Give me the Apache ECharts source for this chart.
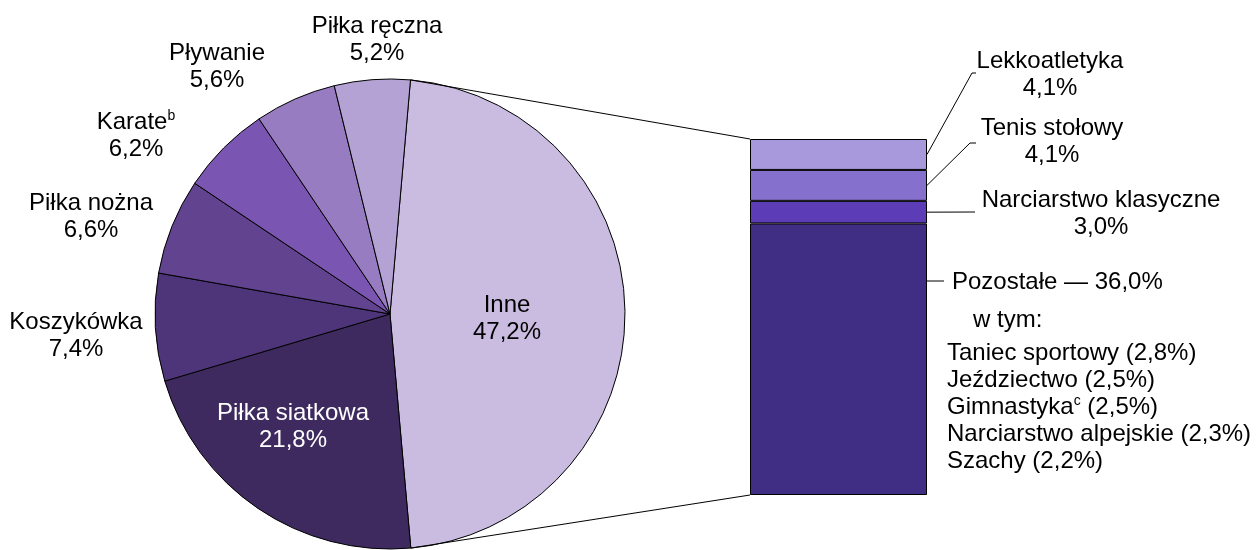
<!DOCTYPE html>
<html>
<head>
<meta charset="utf-8">
<title>Dyscypliny sportu</title>
<script src="https://cdn.jsdelivr.net/npm/echarts@6/dist/echarts.min.js"></script>
<style>
html,body{margin:0;padding:0;background:#fff;}
#chart{width:1257px;height:550px;}
</style>
</head>
<body>
<div id="chart"></div>
<script>
// udział dyscyplin (koło), kolejność zgodnie z ruchem wskazówek zegara
var pieNames = ['Inne', 'Piłka siatkowa', 'Koszykówka', 'Piłka nożna', 'Karate', 'Pływanie', 'Piłka ręczna'];
var pieValues = [47.2, 21.8, 7.4, 6.6, 6.2, 5.6, 5.2];
var pieNotes = ['', '', '', '', 'b', '', ''];

// rozbicie "Inne" - słupek, od dołu
var barNames = ['Pozostałe', 'Narciarstwo klasyczne', 'Tenis stołowy', 'Lekkoatletyka'];
var barValues = [36.0, 3.0, 4.1, 4.1];

// "w tym:"
var subNames = ['Taniec sportowy', 'Jeździectwo', 'Gimnastyka', 'Narciarstwo alpejskie', 'Szachy'];
var subValues = [2.8, 2.5, 2.5, 2.3, 2.2];
var subNotes = ['', '', 'c', '', ''];

// wygląd
var pieColors = ['#C9BCE0', '#3E2A5E', '#4E3478', '#62438F', '#7A55B1', '#977CC2', '#B4A2D5'];
var pieLabelColors = ['#000', '#fff', '#000', '#000', '#000', '#000', '#000'];
var barColors = ['#402D84', '#5C3DB7', '#8670CD', '#A898DC'];
var font = 'Liberation Sans, Arial, sans-serif';
var fs = 24;
var cx = 390, cy = 314, r = 235, startAngle = 85;
var gridLeft = 750, gridTop = 139, gridW = 177, gridH = 356;

// położenie etykiet koła (środek bloku, względem środka koła)
var pieLabelPos = [[117, 5], [-97, 113], [-314, 22], [-299, -97], [-254, -178], [-173, -247], [-13, -274]];
// etykiety słupka (Pozostałe - lewy górny róg, reszta - środek)
var barLabelPos = [[947, 264], [1101, 214], [1052, 142], [1050, 75]];
// linie odniesienia od prawej krawędzi słupka
var barLeaders = [
  { startY: 281, pts: [[944, 281]] },
  { pts: [[975, 212]] },
  { pts: [[970, 143], [976, 143]] },
  { pts: [[972, 73], [976, 73]] }
];

function fmt(v) {
  return v.toFixed(1).replace('.', ',');
}

var rich = {
  n: { fontFamily: font, fontSize: fs, lineHeight: 27 },
  s: { fontFamily: font, fontSize: 14, lineHeight: 10, verticalAlign: 'top' },
  h: { fontFamily: font, fontSize: fs, lineHeight: 36, padding: [0, 0, 0, 5] },
  w: { fontFamily: font, fontSize: fs, lineHeight: 40, padding: [0, 0, 0, 26] },
  l: { fontFamily: font, fontSize: fs, lineHeight: 27 },
  ls: { fontFamily: font, fontSize: 14, lineHeight: 10, verticalAlign: 'top' }
};

var pieData = pieNames.map(function (name, i) {
  return {
    name: name,
    value: pieValues[i],
    itemStyle: { color: pieColors[i] },
    label: { color: pieLabelColors[i] }
  };
});

var total = barValues.reduce(function (a, b) { return a + b; }, 0);

var barSeries = barNames.map(function (name, i) {
  return {
    type: 'bar',
    name: name,
    stack: 'inne',
    barWidth: '100%',
    data: [barValues[i]],
    itemStyle: { color: barColors[i], borderColor: '#000', borderWidth: 1 },
    emphasis: { disabled: true },
    label: {
      show: true,
      position: 'right',
      color: '#000',
      rich: rich,
      formatter: function (p) {
        if (i === 0) {
          var s = '{h|' + name + ' — ' + fmt(p.value) + '%}\n{w|w tym:}';
          subNames.forEach(function (sn, k) {
            s += '\n{l|' + sn + '}';
            if (subNotes[k]) s += '{ls|' + subNotes[k] + '}';
            s += '{l| (' + fmt(subValues[k]) + '%)}';
          });
          return s;
        }
        return '{n|' + name + '}\n{n|' + fmt(p.value) + '%}';
      }
    },
    labelLayout: function () {
      var pos = barLabelPos[i];
      return i === 0
        ? { x: pos[0], y: pos[1], align: 'left', verticalAlign: 'top' }
        : { x: pos[0], y: pos[1], align: 'center', verticalAlign: 'middle' };
    }
  };
});

var chart = echarts.init(document.getElementById('chart'));

chart.setOption({
  animation: false,
  backgroundColor: '#fff',
  textStyle: { fontFamily: font },
  grid: { left: gridLeft, top: gridTop, width: gridW, height: gridH },
  xAxis: { type: 'category', data: ['Inne'], show: false },
  yAxis: { type: 'value', min: 0, max: total, show: false },
  series: [{
    type: 'pie',
    center: [cx, cy],
    radius: r,
    startAngle: startAngle,
    clockwise: true,
    avoidLabelOverlap: false,
    emphasis: { disabled: true },
    itemStyle: { borderColor: '#000', borderWidth: 1 },
    labelLine: { show: false },
    label: {
      show: true,
      position: 'outside',
      rich: rich,
      formatter: function (p) {
        var s = '{n|' + p.name + '}';
        if (pieNotes[p.dataIndex]) s += '{s|' + pieNotes[p.dataIndex] + '}';
        return s + '\n{n|' + fmt(p.value) + '%}';
      }
    },
    labelLayout: function (p) {
      var d = pieLabelPos[p.dataIndex];
      return { x: cx + d[0], y: cy + d[1], align: 'center', verticalAlign: 'middle' };
    },
    data: pieData
  }].concat(barSeries)
});

// linie łączące koło ze słupkiem
var sum = pieValues.reduce(function (a, b) { return a + b; }, 0);
var a1 = (90 - startAngle) * Math.PI / 180;
var a2 = a1 + 2 * Math.PI * pieValues[0] / sum;
var yTop = chart.convertToPixel({ yAxisIndex: 0 }, total);
var yBot = chart.convertToPixel({ yAxisIndex: 0 }, 0);

var lineStyle = { stroke: '#000', lineWidth: 1 };
var graphics = [
  { type: 'line', shape: { x1: cx + r * Math.sin(a1), y1: cy - r * Math.cos(a1), x2: gridLeft, y2: yTop }, style: lineStyle, z: 10 },
  { type: 'line', shape: { x1: cx + r * Math.sin(a2), y1: cy - r * Math.cos(a2), x2: gridLeft, y2: yBot }, style: lineStyle, z: 10 }
];

var acc = 0;
barValues.forEach(function (v, i) {
  var mid = chart.convertToPixel({ yAxisIndex: 0 }, acc + v / 2);
  acc += v;
  var ld = barLeaders[i];
  var pts = [[gridLeft + gridW, ld.startY != null ? ld.startY : mid]].concat(ld.pts);
  graphics.push({ type: 'polyline', shape: { points: pts }, style: { stroke: '#000', lineWidth: 1, fill: null }, z: 10 });
});

chart.setOption({ graphic: graphics });
</script>
</body>
</html>
